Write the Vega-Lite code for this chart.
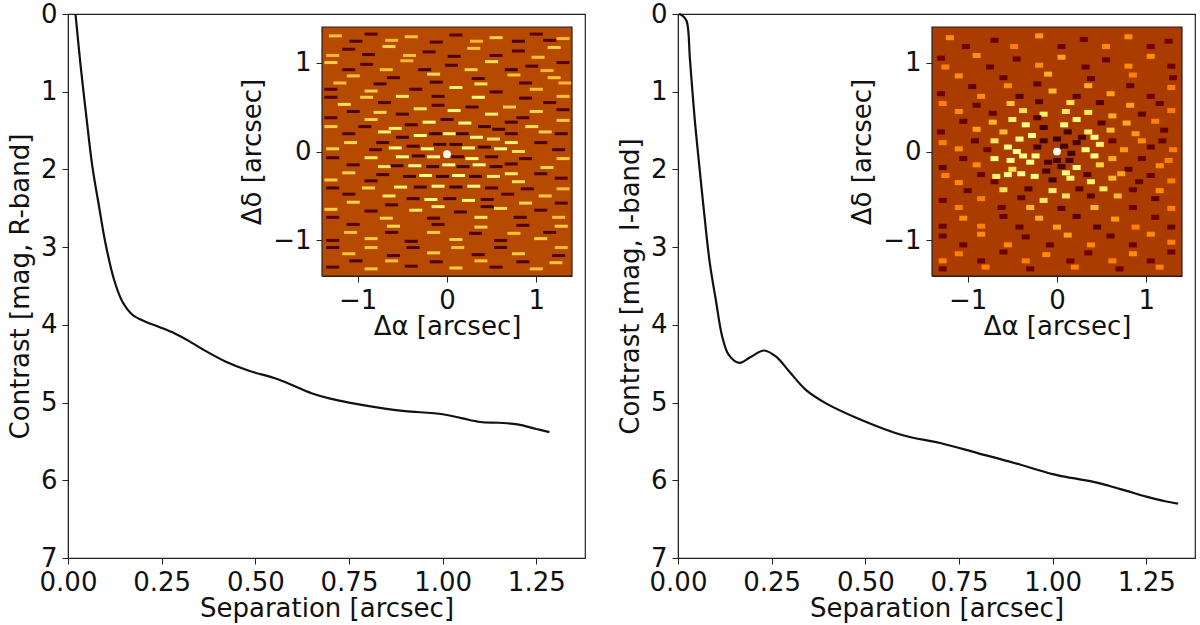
{"$schema":"https://vega.github.io/schema/vega-lite/v6.json","autosize":{"type":"pad"},"padding":{"left":6,"top":0,"right":4,"bottom":2},"bounds":"flush","spacing":93,"background":"white","config":{"font":"DejaVu Sans","view":{"stroke":"#222222","strokeWidth":1.2},"axis":{"grid":false,"labelFont":"DejaVu Sans","titleFont":"DejaVu Sans","labelFontSize":26,"titleFontSize":26,"titleFontWeight":"normal","labelColor":"#111111","titleColor":"#111111","domainColor":"#222222","tickColor":"#222222","tickSize":6,"labelPadding":5,"titlePadding":3,"labelFlush":false,"labelOverlap":false}},
"datasets":{
"frame":[{"a":-1.4,"a2":1.4,"d":-1.4,"d2":1.4}],
"contrastR":[{"sep":0.02,"mag":0},{"sep":0.034,"mag":0.68},{"sep":0.049,"mag":1.32},{"sep":0.065,"mag":1.96},{"sep":0.083,"mag":2.48},{"sep":0.1,"mag":2.95},{"sep":0.123,"mag":3.42},{"sep":0.145,"mag":3.7},{"sep":0.172,"mag":3.87},{"sep":0.207,"mag":3.96},{"sep":0.245,"mag":4.03},{"sep":0.285,"mag":4.11},{"sep":0.32,"mag":4.2},{"sep":0.358,"mag":4.31},{"sep":0.42,"mag":4.47},{"sep":0.483,"mag":4.59},{"sep":0.56,"mag":4.7},{"sep":0.65,"mag":4.88},{"sep":0.7,"mag":4.95},{"sep":0.75,"mag":5.0},{"sep":0.85,"mag":5.08},{"sep":0.9,"mag":5.11},{"sep":1.0,"mag":5.15},{"sep":1.05,"mag":5.2},{"sep":1.1,"mag":5.25},{"sep":1.15,"mag":5.26},{"sep":1.2,"mag":5.28},{"sep":1.25,"mag":5.34},{"sep":1.285,"mag":5.38}],
"contrastI":[{"sep":0.003,"mag":0},{"sep":0.012,"mag":0.02},{"sep":0.023,"mag":0.09},{"sep":0.032,"mag":0.59},{"sep":0.044,"mag":1.32},{"sep":0.057,"mag":1.96},{"sep":0.07,"mag":2.57},{"sep":0.085,"mag":3.21},{"sep":0.101,"mag":3.68},{"sep":0.118,"mag":4.15},{"sep":0.136,"mag":4.39},{"sep":0.164,"mag":4.49},{"sep":0.195,"mag":4.41},{"sep":0.23,"mag":4.33},{"sep":0.262,"mag":4.41},{"sep":0.297,"mag":4.6},{"sep":0.342,"mag":4.84},{"sep":0.395,"mag":5.01},{"sep":0.488,"mag":5.22},{"sep":0.6,"mag":5.42},{"sep":0.7,"mag":5.52},{"sep":0.8,"mag":5.65},{"sep":0.9,"mag":5.78},{"sep":1.0,"mag":5.92},{"sep":1.05,"mag":5.97},{"sep":1.1,"mag":6.01},{"sep":1.15,"mag":6.07},{"sep":1.2,"mag":6.14},{"sep":1.25,"mag":6.21},{"sep":1.3,"mag":6.27},{"sep":1.335,"mag":6.3}],
"noiseL":[
{"a":-1.25,"d":1.3,"v":0.62},{"a":-0.85,"d":1.32,"v":0.1},{"a":-0.4,"d":1.29,"v":0.62},{"a":0.1,"d":1.31,"v":0.1},{"a":0.55,"d":1.28,"v":0.65},{"a":1.0,"d":1.32,"v":0.12},{"a":1.3,"d":1.27,"v":0.6},
{"a":-1.1,"d":1.15,"v":0.1},{"a":-0.65,"d":1.18,"v":0.65},{"a":-0.2,"d":1.12,"v":0.08},{"a":0.3,"d":1.16,"v":0.62},{"a":0.8,"d":1.13,"v":0.1},{"a":1.2,"d":1.17,"v":0.65},
{"a":-1.3,"d":1.0,"v":0.65},{"a":-0.9,"d":0.98,"v":0.08},{"a":-0.45,"d":1.02,"v":0.6},{"a":0.05,"d":0.97,"v":0.08},{"a":0.5,"d":1.01,"v":0.68},{"a":0.95,"d":0.96,"v":0.1},{"a":1.3,"d":1.0,"v":0.1},
{"a":-1.05,"d":0.85,"v":0.62},{"a":-0.6,"d":0.83,"v":0.08},{"a":-0.15,"d":0.87,"v":0.68},{"a":0.35,"d":0.82,"v":0.06},{"a":0.75,"d":0.86,"v":0.62},{"a":1.2,"d":0.83,"v":0.62},
{"a":-1.3,"d":0.7,"v":0.08},{"a":-0.85,"d":0.68,"v":0.65},{"a":-0.35,"d":0.7,"v":0.05},{"a":0.1,"d":0.72,"v":0.72},{"a":0.55,"d":0.67,"v":0.06},{"a":1.0,"d":0.7,"v":0.62},
{"a":-1.15,"d":0.53,"v":0.68},{"a":-0.7,"d":0.55,"v":0.06},{"a":0.7,"d":0.5,"v":0.65},{"a":1.15,"d":0.55,"v":0.08},
{"a":-1.3,"d":0.38,"v":0.1},{"a":-0.85,"d":0.36,"v":0.66},{"a":0.85,"d":0.38,"v":0.1},{"a":1.3,"d":0.35,"v":0.64},
{"a":-1.1,"d":0.2,"v":0.08},{"a":-0.7,"d":0.22,"v":0.72},{"a":0.72,"d":0.2,"v":0.06},{"a":1.1,"d":0.22,"v":0.64},
{"a":-1.28,"d":0.03,"v":0.66},{"a":-0.8,"d":0.02,"v":0.08},{"a":0.8,"d":0.0,"v":0.68},{"a":1.25,"d":0.02,"v":0.08},
{"a":-1.05,"d":-0.15,"v":0.08},{"a":-0.7,"d":-0.17,"v":0.7},{"a":0.72,"d":-0.14,"v":0.06},{"a":1.12,"d":-0.18,"v":0.66},
{"a":-1.3,"d":-0.32,"v":0.64},{"a":-0.85,"d":-0.33,"v":0.06},{"a":0.8,"d":-0.34,"v":0.68},{"a":1.28,"d":-0.3,"v":0.1},
{"a":-1.1,"d":-0.48,"v":0.08},{"a":-0.65,"d":-0.5,"v":0.7},{"a":0.68,"d":-0.48,"v":0.08},{"a":1.1,"d":-0.5,"v":0.64},
{"a":-1.3,"d":-0.65,"v":0.65},{"a":-0.85,"d":-0.67,"v":0.06},{"a":-0.35,"d":-0.66,"v":0.7},{"a":0.15,"d":-0.68,"v":0.05},{"a":0.6,"d":-0.64,"v":0.68},{"a":1.05,"d":-0.66,"v":0.08},
{"a":-1.05,"d":-0.82,"v":0.08},{"a":-0.6,"d":-0.84,"v":0.66},{"a":-0.1,"d":-0.82,"v":0.08},{"a":0.38,"d":-0.85,"v":0.65},{"a":0.85,"d":-0.83,"v":0.08},{"a":1.28,"d":-0.84,"v":0.64},
{"a":-1.28,"d":-1.0,"v":0.1},{"a":-0.85,"d":-0.98,"v":0.64},{"a":-0.4,"d":-1.01,"v":0.06},{"a":0.1,"d":-0.99,"v":0.66},{"a":0.6,"d":-1.0,"v":0.08},{"a":1.05,"d":-0.98,"v":0.64},
{"a":-1.1,"d":-1.15,"v":0.62},{"a":-0.6,"d":-1.17,"v":0.08},{"a":-0.15,"d":-1.14,"v":0.65},{"a":0.35,"d":-1.16,"v":0.08},{"a":0.8,"d":-1.15,"v":0.64},{"a":1.25,"d":-1.17,"v":0.1},
{"a":-1.28,"d":-1.3,"v":0.08},{"a":-0.85,"d":-1.32,"v":0.64},{"a":-0.4,"d":-1.29,"v":0.08},{"a":0.1,"d":-1.31,"v":0.64},{"a":0.55,"d":-1.3,"v":0.08},{"a":1.0,"d":-1.32,"v":0.62},
{"a":-1.02,"d":1.24,"v":0.08},{"a":-0.62,"d":1.25,"v":0.6},{"a":-0.12,"d":1.23,"v":0.08},{"a":0.33,"d":1.24,"v":0.6},{"a":0.8,"d":1.24,"v":0.06},{"a":1.15,"d":1.25,"v":0.1},
{"a":-1.28,"d":1.08,"v":0.6},{"a":-0.88,"d":1.09,"v":0.06},{"a":-0.42,"d":1.08,"v":0.62},{"a":0.08,"d":1.07,"v":0.06},{"a":0.55,"d":1.08,"v":0.1},{"a":1.02,"d":1.06,"v":0.62},
{"a":-1.1,"d":0.92,"v":0.08},{"a":-0.68,"d":0.92,"v":0.62},{"a":-0.25,"d":0.92,"v":0.05},{"a":0.27,"d":0.92,"v":0.66},{"a":0.72,"d":0.92,"v":0.06},{"a":1.12,"d":0.91,"v":0.6},
{"a":-1.2,"d":0.77,"v":0.62},{"a":-0.75,"d":0.76,"v":0.06},{"a":-0.12,"d":0.78,"v":0.05},{"a":0.38,"d":0.76,"v":0.7},{"a":0.88,"d":0.77,"v":0.06},{"a":1.32,"d":0.77,"v":0.6},
{"a":-1.3,"d":0.61,"v":0.08},{"a":-0.9,"d":0.61,"v":0.64},{"a":-0.5,"d":0.62,"v":0.7},{"a":-0.1,"d":0.62,"v":0.05},{"a":0.35,"d":0.61,"v":0.75},{"a":0.88,"d":0.6,"v":0.06},{"a":1.3,"d":0.62,"v":0.62},
{"a":-1.05,"d":0.45,"v":0.08},{"a":-0.75,"d":0.44,"v":0.66},{"a":0.72,"d":0.33,"v":0.06},{"a":1.0,"d":0.45,"v":0.66},{"a":1.3,"d":0.47,"v":0.08},
{"a":-1.3,"d":0.28,"v":0.64},{"a":-0.92,"d":0.28,"v":0.05},{"a":0.95,"d":0.28,"v":0.68},{"a":1.28,"d":0.2,"v":0.08},
{"a":-1.08,"d":0.1,"v":0.66},{"a":-0.72,"d":0.1,"v":0.05},{"a":0.72,"d":0.1,"v":0.72},{"a":1.05,"d":0.1,"v":0.06},
{"a":-1.28,"d":-0.07,"v":0.06},{"a":-0.85,"d":-0.07,"v":0.7},{"a":0.88,"d":-0.08,"v":0.06},{"a":1.3,"d":-0.08,"v":0.64},
{"a":-1.1,"d":-0.24,"v":0.66},{"a":-0.72,"d":-0.26,"v":0.05},{"a":0.72,"d":-0.25,"v":0.72},{"a":1.05,"d":-0.25,"v":0.06},
{"a":-1.28,"d":-0.41,"v":0.06},{"a":-0.88,"d":-0.41,"v":0.66},{"a":0.9,"d":-0.42,"v":0.06},{"a":1.3,"d":-0.42,"v":0.62},
{"a":-1.05,"d":-0.57,"v":0.66},{"a":-0.62,"d":-0.6,"v":0.05},{"a":-0.1,"d":-0.62,"v":0.72},{"a":0.45,"d":-0.62,"v":0.05},{"a":0.88,"d":-0.58,"v":0.66},{"a":1.28,"d":-0.58,"v":0.08},
{"a":-1.28,"d":-0.74,"v":0.08},{"a":-0.68,"d":-0.75,"v":0.66},{"a":-0.15,"d":-0.75,"v":0.06},{"a":0.38,"d":-0.74,"v":0.7},{"a":0.82,"d":-0.74,"v":0.06},{"a":1.25,"d":-0.74,"v":0.62},
{"a":-1.08,"d":-0.91,"v":0.62},{"a":-0.62,"d":-0.91,"v":0.06},{"a":-0.15,"d":-0.91,"v":0.64},{"a":0.32,"d":-0.92,"v":0.06},{"a":0.75,"d":-0.92,"v":0.62},{"a":1.15,"d":-0.91,"v":0.08},
{"a":-1.28,"d":-1.08,"v":0.06},{"a":-0.85,"d":-1.08,"v":0.62},{"a":-0.38,"d":-1.08,"v":0.06},{"a":0.12,"d":-1.08,"v":0.62},{"a":0.6,"d":-1.08,"v":0.06},{"a":1.28,"d":-1.08,"v":0.6},
{"a":-1.02,"d":-1.23,"v":0.06},{"a":-0.62,"d":-1.23,"v":0.62},{"a":-0.12,"d":-1.24,"v":0.06},{"a":0.38,"d":-1.23,"v":0.62},{"a":0.85,"d":-1.24,"v":0.06},{"a":1.22,"d":-1.25,"v":0.62},
{"a":-0.5,"d":0.42,"v":0.08},{"a":-0.3,"d":0.48,"v":0.7},{"a":-0.1,"d":0.52,"v":0.1},{"a":0.08,"d":0.46,"v":0.8},{"a":0.28,"d":0.5,"v":0.05},{"a":0.5,"d":0.42,"v":0.72},
{"a":-0.58,"d":0.26,"v":0.72},{"a":-0.4,"d":0.3,"v":0.02},{"a":-0.2,"d":0.33,"v":0.85},{"a":0.0,"d":0.36,"v":0.02},{"a":0.2,"d":0.32,"v":0.9},{"a":0.42,"d":0.28,"v":0.02},{"a":0.58,"d":0.25,"v":0.05},
{"a":-0.5,"d":0.16,"v":0.02},{"a":-0.3,"d":0.18,"v":0.9},{"a":-0.13,"d":0.2,"v":0.0},{"a":0.03,"d":0.2,"v":0.98},{"a":0.17,"d":0.2,"v":0.0},{"a":0.33,"d":0.16,"v":0.95},{"a":0.52,"d":0.14,"v":0.7},
{"a":-0.58,"d":0.04,"v":0.8},{"a":-0.38,"d":0.06,"v":0.02},{"a":-0.22,"d":0.03,"v":0.98},{"a":-0.08,"d":0.08,"v":0.0},{"a":0.1,"d":0.08,"v":0.0},{"a":0.24,"d":0.04,"v":0.98},{"a":0.42,"d":0.05,"v":0.02},{"a":0.6,"d":0.03,"v":0.75},
{"a":-0.5,"d":-0.06,"v":0.92},{"a":-0.32,"d":-0.05,"v":0.0},{"a":-0.15,"d":-0.06,"v":0.95},{"a":0.12,"d":-0.06,"v":0.0},{"a":0.28,"d":-0.08,"v":0.98},{"a":0.5,"d":-0.06,"v":0.02},
{"a":-0.56,"d":-0.16,"v":0.02},{"a":-0.36,"d":-0.16,"v":0.98},{"a":-0.16,"d":-0.17,"v":0.0},{"a":0.02,"d":-0.15,"v":0.98},{"a":0.18,"d":-0.17,"v":0.0},{"a":0.36,"d":-0.15,"v":0.9},{"a":0.55,"d":-0.17,"v":0.04},
{"a":-0.42,"d":-0.28,"v":0.04},{"a":-0.24,"d":-0.27,"v":0.98},{"a":-0.05,"d":-0.28,"v":0.0},{"a":0.13,"d":-0.27,"v":0.95},{"a":0.32,"d":-0.28,"v":0.02},{"a":0.52,"d":-0.28,"v":0.72},
{"a":-0.52,"d":-0.4,"v":0.72},{"a":-0.3,"d":-0.4,"v":0.04},{"a":-0.1,"d":-0.39,"v":0.85},{"a":0.1,"d":-0.4,"v":0.03},{"a":0.3,"d":-0.39,"v":0.78},{"a":0.5,"d":-0.41,"v":0.06},
{"a":-0.38,"d":-0.53,"v":0.05},{"a":-0.18,"d":-0.54,"v":0.76},{"a":0.03,"d":-0.53,"v":0.05},{"a":0.24,"d":-0.55,"v":0.74},{"a":0.45,"d":-0.54,"v":0.06}],
"noiseI":[
{"a":-1.2,"d":1.28,"v":0.52},{"a":-0.7,"d":1.25,"v":0.18},{"a":-0.2,"d":1.3,"v":0.54},{"a":0.3,"d":1.26,"v":0.18},{"a":0.8,"d":1.29,"v":0.52},{"a":1.25,"d":1.24,"v":0.2},
{"a":-1.3,"d":1.05,"v":0.18},{"a":-0.9,"d":1.08,"v":0.52},{"a":-0.45,"d":1.04,"v":0.18},{"a":0.05,"d":1.06,"v":0.56},{"a":0.55,"d":1.03,"v":0.16},{"a":1.05,"d":1.07,"v":0.52},
{"a":-1.1,"d":0.85,"v":0.52},{"a":-0.6,"d":0.83,"v":0.16},{"a":-0.1,"d":0.87,"v":0.58},{"a":0.38,"d":0.82,"v":0.15},{"a":0.85,"d":0.86,"v":0.5},{"a":1.3,"d":0.83,"v":0.18},
{"a":-1.3,"d":0.65,"v":0.18},{"a":-0.85,"d":0.62,"v":0.52},{"a":-0.42,"d":0.62,"v":0.1},{"a":-0.05,"d":0.68,"v":0.6},{"a":0.22,"d":0.62,"v":0.12},{"a":0.6,"d":0.65,"v":0.56},{"a":1.05,"d":0.62,"v":0.16},
{"a":-1.1,"d":0.45,"v":0.52},{"a":-0.72,"d":0.43,"v":0.14},{"a":-0.38,"d":0.46,"v":0.68},{"a":-0.15,"d":0.42,"v":0.72},{"a":0.1,"d":0.45,"v":0.7},{"a":0.35,"d":0.44,"v":0.7},{"a":0.62,"d":0.4,"v":0.58},{"a":0.95,"d":0.42,"v":0.14},{"a":1.28,"d":0.46,"v":0.5},
{"a":-1.3,"d":0.22,"v":0.18},{"a":-0.9,"d":0.25,"v":0.56},{"a":-0.6,"d":0.22,"v":0.6},{"a":-0.35,"d":0.3,"v":0.75},{"a":-0.15,"d":0.27,"v":0.02},{"a":0.08,"d":0.3,"v":0.8},{"a":0.12,"d":0.22,"v":0.0},{"a":0.35,"d":0.22,"v":0.72},{"a":0.6,"d":0.24,"v":0.62},{"a":0.88,"d":0.2,"v":0.54},{"a":1.2,"d":0.24,"v":0.16},
{"a":-1.1,"d":0.03,"v":0.52},{"a":-0.78,"d":0.02,"v":0.2},{"a":-0.55,"d":0.05,"v":0.85},{"a":-0.45,"d":0.0,"v":0.98},{"a":-0.38,"d":-0.05,"v":0.85},{"a":-0.22,"d":0.05,"v":0.02},{"a":-0.15,"d":0.12,"v":0.0},{"a":0.08,"d":0.06,"v":0.0},{"a":0.16,"d":-0.02,"v":0.0},{"a":0.22,"d":0.1,"v":0.02},{"a":0.32,"d":0.02,"v":0.85},{"a":0.48,"d":0.08,"v":0.72},{"a":0.75,"d":0.02,"v":0.54},{"a":1.05,"d":0.05,"v":0.14},{"a":1.3,"d":0.02,"v":0.5},
{"a":-1.28,"d":-0.18,"v":0.16},{"a":-0.9,"d":-0.15,"v":0.52},{"a":-0.5,"d":-0.2,"v":0.68},{"a":-0.3,"d":-0.12,"v":0.85},{"a":-0.1,"d":-0.12,"v":0.02},{"a":0.05,"d":-0.17,"v":0.0},{"a":0.22,"d":-0.18,"v":0.9},{"a":0.48,"d":-0.15,"v":0.65},{"a":0.8,"d":-0.2,"v":0.14},{"a":1.15,"d":-0.16,"v":0.52},
{"a":-1.1,"d":-0.35,"v":0.52},{"a":-0.7,"d":-0.34,"v":0.18},{"a":-0.55,"d":-0.26,"v":0.82},{"a":-0.25,"d":-0.28,"v":0.85},{"a":-0.05,"d":-0.32,"v":0.0},{"a":0.15,"d":-0.3,"v":0.72},{"a":0.38,"d":-0.34,"v":0.72},{"a":0.62,"d":-0.3,"v":0.6},{"a":0.92,"d":-0.34,"v":0.15},{"a":1.28,"d":-0.33,"v":0.5},
{"a":-1.28,"d":-0.55,"v":0.18},{"a":-0.85,"d":-0.53,"v":0.5},{"a":-0.4,"d":-0.52,"v":0.14},{"a":-0.15,"d":-0.55,"v":0.7},{"a":0.1,"d":-0.5,"v":0.68},{"a":0.38,"d":-0.5,"v":0.12},{"a":0.68,"d":-0.5,"v":0.6},{"a":1.1,"d":-0.53,"v":0.16},
{"a":-1.05,"d":-0.75,"v":0.52},{"a":-0.6,"d":-0.73,"v":0.16},{"a":-0.2,"d":-0.75,"v":0.58},{"a":0.22,"d":-0.73,"v":0.1},{"a":0.65,"d":-0.76,"v":0.54},{"a":1.1,"d":-0.74,"v":0.18},
{"a":-1.28,"d":-0.95,"v":0.18},{"a":-0.85,"d":-0.93,"v":0.52},{"a":-0.35,"d":-0.96,"v":0.16},{"a":0.12,"d":-0.94,"v":0.56},{"a":0.6,"d":-0.95,"v":0.16},{"a":1.05,"d":-0.93,"v":0.52},
{"a":-1.1,"d":-1.15,"v":0.5},{"a":-0.6,"d":-1.13,"v":0.18},{"a":-0.12,"d":-1.16,"v":0.52},{"a":0.35,"d":-1.14,"v":0.18},{"a":0.85,"d":-1.15,"v":0.52},{"a":1.28,"d":-1.13,"v":0.18},
{"a":-1.28,"d":-1.32,"v":0.18},{"a":-0.8,"d":-1.3,"v":0.5},{"a":-0.3,"d":-1.32,"v":0.18},{"a":0.2,"d":-1.3,"v":0.5},{"a":0.7,"d":-1.32,"v":0.18},{"a":1.15,"d":-1.3,"v":0.5},
{"a":-1.02,"d":1.18,"v":0.2},{"a":-0.48,"d":1.18,"v":0.5},{"a":0.05,"d":1.18,"v":0.18},{"a":0.55,"d":1.18,"v":0.52},{"a":1.05,"d":1.18,"v":0.2},
{"a":-1.25,"d":0.95,"v":0.5},{"a":-0.75,"d":0.95,"v":0.18},{"a":-0.2,"d":0.97,"v":0.52},{"a":0.32,"d":0.95,"v":0.16},{"a":0.8,"d":0.96,"v":0.52},{"a":1.28,"d":0.96,"v":0.18},
{"a":-0.95,"d":0.73,"v":0.16},{"a":-0.55,"d":0.74,"v":0.52},{"a":-0.22,"d":0.76,"v":0.14},{"a":0.35,"d":0.74,"v":0.58},{"a":0.82,"d":0.74,"v":0.16},{"a":1.28,"d":0.72,"v":0.5},
{"a":-1.28,"d":0.54,"v":0.5},{"a":-0.9,"d":0.52,"v":0.16},{"a":-0.52,"d":0.54,"v":0.62},{"a":-0.2,"d":0.56,"v":0.1},{"a":0.15,"d":0.55,"v":0.68},{"a":0.48,"d":0.55,"v":0.1},{"a":0.82,"d":0.52,"v":0.56},{"a":1.15,"d":0.54,"v":0.16},
{"a":-1.05,"d":0.34,"v":0.16},{"a":-0.72,"d":0.33,"v":0.6},{"a":-0.5,"d":0.36,"v":0.72},{"a":-0.22,"d":0.38,"v":0.1},{"a":0.22,"d":0.36,"v":0.74},{"a":0.5,"d":0.32,"v":0.1},{"a":0.78,"d":0.32,"v":0.58},{"a":1.1,"d":0.34,"v":0.5},
{"a":-1.28,"d":0.1,"v":0.5},{"a":-0.92,"d":0.12,"v":0.14},{"a":-0.7,"d":0.12,"v":0.7},{"a":-0.42,"d":0.14,"v":0.9},{"a":-0.28,"d":0.18,"v":0.82},{"a":0.0,"d":0.14,"v":0.0},{"a":0.28,"d":0.16,"v":0.05},{"a":0.42,"d":0.16,"v":0.8},{"a":0.62,"d":0.12,"v":0.15},{"a":0.95,"d":0.12,"v":0.52},{"a":1.18,"d":0.12,"v":0.16},
{"a":-1.05,"d":-0.08,"v":0.16},{"a":-0.7,"d":-0.08,"v":0.78},{"a":-0.52,"d":-0.1,"v":0.88},{"a":-0.24,"d":-0.05,"v":0.9},{"a":0.0,"d":-0.1,"v":0.0},{"a":0.14,"d":-0.1,"v":0.0},{"a":0.42,"d":-0.05,"v":0.76},{"a":0.62,"d":-0.08,"v":0.58},{"a":0.95,"d":-0.08,"v":0.16},{"a":1.25,"d":-0.1,"v":0.5},
{"a":-1.25,"d":-0.27,"v":0.5},{"a":-0.85,"d":-0.26,"v":0.16},{"a":-0.68,"d":-0.28,"v":0.72},{"a":-0.4,"d":-0.25,"v":0.9},{"a":-0.12,"d":-0.22,"v":0.02},{"a":0.1,"d":-0.24,"v":0.85},{"a":0.34,"d":-0.26,"v":0.08},{"a":0.72,"d":-0.25,"v":0.56},{"a":1.05,"d":-0.27,"v":0.16},
{"a":-1.0,"d":-0.44,"v":0.16},{"a":-0.6,"d":-0.43,"v":0.68},{"a":-0.32,"d":-0.42,"v":0.08},{"a":-0.05,"d":-0.44,"v":0.72},{"a":0.25,"d":-0.42,"v":0.1},{"a":0.52,"d":-0.42,"v":0.7},{"a":0.85,"d":-0.43,"v":0.16},{"a":1.15,"d":-0.44,"v":0.52},
{"a":-1.1,"d":-0.63,"v":0.5},{"a":-0.62,"d":-0.63,"v":0.16},{"a":-0.3,"d":-0.63,"v":0.6},{"a":0.05,"d":-0.64,"v":0.1},{"a":0.42,"d":-0.63,"v":0.6},{"a":0.85,"d":-0.63,"v":0.16},{"a":1.28,"d":-0.64,"v":0.5},
{"a":-1.28,"d":-0.84,"v":0.18},{"a":-0.85,"d":-0.84,"v":0.5},{"a":-0.42,"d":-0.85,"v":0.14},{"a":0.0,"d":-0.85,"v":0.56},{"a":0.45,"d":-0.85,"v":0.12},{"a":0.88,"d":-0.85,"v":0.5},{"a":1.28,"d":-0.85,"v":0.18},
{"a":-1.05,"d":-1.05,"v":0.18},{"a":-0.55,"d":-1.05,"v":0.52},{"a":-0.08,"d":-1.05,"v":0.16},{"a":0.38,"d":-1.05,"v":0.52},{"a":0.85,"d":-1.05,"v":0.18},{"a":1.28,"d":-1.02,"v":0.5},
{"a":-1.28,"d":-1.23,"v":0.5},{"a":-0.85,"d":-1.23,"v":0.18},{"a":-0.35,"d":-1.23,"v":0.5},{"a":0.15,"d":-1.23,"v":0.18},{"a":0.62,"d":-1.23,"v":0.5},{"a":1.05,"d":-1.23,"v":0.18}]
},
"hconcat":[
{"width":517,"height":544,"resolve":{"scale":{"x":"independent","y":"independent"},"axis":{"x":"independent","y":"independent"}},"layer":[
{"data":{"name":"contrastR"},"mark":{"type":"line","color":"#111111","strokeWidth":2.2,"interpolate":"catmull-rom"},"encoding":{"x":{"field":"sep","type":"quantitative","scale":{"domain":[0,1.38],"nice":false},"axis":{"orient":"bottom","title":"Separation [arcsec]","titlePadding":0,"values":[0,0.25,0.5,0.75,1,1.25],"format":".2f"}},"y":{"field":"mag","type":"quantitative","scale":{"domain":[7,0],"nice":false,"zero":false},"axis":{"orient":"left","title":"Contrast [mag, R-band]","titlePadding":7,"values":[0,1,2,3,4,5,6,7],"format":"d"}}}},
{"layer":[
{"data":{"name":"frame"},"mark":{"type":"rect","color":"#b64a00"},"encoding":{"x":{"field":"a","type":"quantitative","scale":{"domain":[-1.4,1.4],"range":[254,504],"nice":false,"zero":false},"axis":{"orient":"bottom","title":"Δα [arcsec]","titlePadding":0,"values":[-1,0,1],"format":".0f","offset":-282}},"x2":{"field":"a2"},"y":{"field":"d","type":"quantitative","scale":{"domain":[-1.4,1.4],"range":[262,13],"nice":false,"zero":false},"axis":{"orient":"left","title":"Δδ [arcsec]","titlePadding":7,"values":[-1,0,1],"format":".0f","offset":-254}},"y2":{"field":"d2"}}},
{"data":{"name":"noiseL"},"mark":{"type":"rect","width":13,"height":3},"encoding":{"x":{"field":"a","type":"quantitative"},"y":{"field":"d","type":"quantitative"},"color":{"field":"v","type":"quantitative","legend":null,"scale":{"domain":[0,0.25,0.5,0.75,1],"range":["#000000","#800000","#ff8000","#ffff80","#ffffff"]}}}},
{"data":{"values":[{"a":0,"d":-0.03,"v":1}]},"mark":{"type":"point","filled":true,"shape":"circle","size":60,"color":"#ffffff","opacity":1},"encoding":{"x":{"field":"a","type":"quantitative"},"y":{"field":"d","type":"quantitative"}}},
{"data":{"name":"frame"},"mark":{"type":"rect","fillOpacity":0,"stroke":"#222222","strokeWidth":1.2},"encoding":{"x":{"field":"a","type":"quantitative"},"x2":{"field":"a2"},"y":{"field":"d","type":"quantitative"},"y2":{"field":"d2"}}}
]}
]},
{"width":517,"height":544,"resolve":{"scale":{"x":"independent","y":"independent"},"axis":{"x":"independent","y":"independent"}},"layer":[
{"data":{"name":"contrastI"},"mark":{"type":"line","color":"#111111","strokeWidth":2.2,"interpolate":"catmull-rom"},"encoding":{"x":{"field":"sep","type":"quantitative","scale":{"domain":[0,1.38],"nice":false},"axis":{"orient":"bottom","title":"Separation [arcsec]","titlePadding":0,"values":[0,0.25,0.5,0.75,1,1.25],"format":".2f"}},"y":{"field":"mag","type":"quantitative","scale":{"domain":[7,0],"nice":false,"zero":false},"axis":{"orient":"left","title":"Contrast [mag, I-band]","titlePadding":7,"values":[0,1,2,3,4,5,6,7],"format":"d"}}}},
{"layer":[
{"data":{"name":"frame"},"mark":{"type":"rect","color":"#ab3c00"},"encoding":{"x":{"field":"a","type":"quantitative","scale":{"domain":[-1.4,1.4],"range":[254,504],"nice":false,"zero":false},"axis":{"orient":"bottom","title":"Δα [arcsec]","titlePadding":0,"values":[-1,0,1],"format":".0f","offset":-282}},"x2":{"field":"a2"},"y":{"field":"d","type":"quantitative","scale":{"domain":[-1.4,1.4],"range":[262,13],"nice":false,"zero":false},"axis":{"orient":"left","title":"Δδ [arcsec]","titlePadding":7,"values":[-1,0,1],"format":".0f","offset":-254}},"y2":{"field":"d2"}}},
{"data":{"name":"noiseI"},"mark":{"type":"rect","width":8,"height":5},"encoding":{"x":{"field":"a","type":"quantitative"},"y":{"field":"d","type":"quantitative"},"color":{"field":"v","type":"quantitative","legend":null,"scale":{"domain":[0,0.25,0.5,0.75,1],"range":["#000000","#800000","#ff8000","#ffff80","#ffffff"]}}}},
{"data":{"values":[{"a":0,"d":0,"v":1}]},"mark":{"type":"point","filled":true,"shape":"circle","size":60,"color":"#ffffff","opacity":1},"encoding":{"x":{"field":"a","type":"quantitative"},"y":{"field":"d","type":"quantitative"}}},
{"data":{"name":"frame"},"mark":{"type":"rect","fillOpacity":0,"stroke":"#222222","strokeWidth":1.2},"encoding":{"x":{"field":"a","type":"quantitative"},"x2":{"field":"a2"},"y":{"field":"d","type":"quantitative"},"y2":{"field":"d2"}}}
]}
]}
]}
